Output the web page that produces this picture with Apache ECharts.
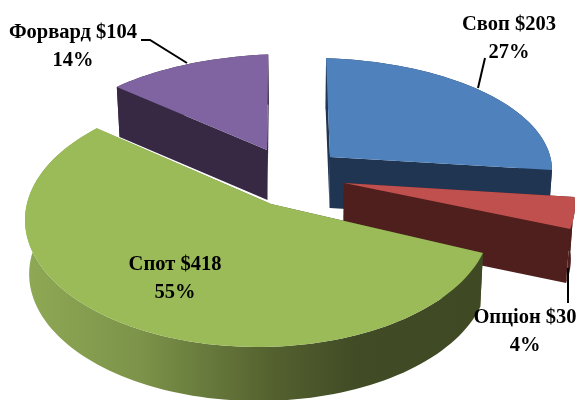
<!DOCTYPE html>
<html>
<head>
<meta charset="utf-8">
<style>
	html, body { margin: 0; padding: 0; background: #fff; }
	#main { width: 578px; height: 400px; }
</style>
<script src="https://cdn.jsdelivr.net/npm/echarts@6/dist/echarts.min.js"></script>
</head>
<body>
<div id="main"></div>
<script>
var categories = [ 'Своп', 'Опціон', 'Спот', 'Форвард' ];
var values = [ 203, 30, 418, 104 ];
var percents = [ 27, 4, 55, 14 ];

// look of the exploded 3d slices, same order as categories
// ex/ey/rx/ry: ellipse of the top face, px/py: slice tip, shift: angle correction at both ends (deg)
var sliceStyles = [
	{ ex: 310, ey: 170, rx: 242, ry: 112, px: 330, py: 157, shift: [ 3.8, -6.8 ], depth: 51, top: '#4f81bd', side: '#1f3552', order: 0 },
	{ ex: 335, ey: 205, rx: 240, ry: 120, px: 344, py: 183, shift: [ -10.6, -9.6 ], depth: 54, top: '#c0504d', side: '#4e1f1d', order: 2 },
	{ ex: 258, ey: 220, rx: 233, ry: 127, px: 271, py: 204, shift: [ -6, 5.8 ], depth: 54, top: '#9bbb59', side: null, order: 3 },
	{ ex: 290, ey: 161, rx: 240, ry: 107, px: 267, py: 150, shift: [ 3.4, -5.2 ], depth: 50, top: '#8064a2', side: '#372943', order: 1 }
];
var vanishX = 300;
var labelPos = [ [ 509, 25 ], [ 525, 318 ], [ 175, 265 ], [ 73, 33 ] ];
var leaderLines = [
	[ [ 485, 58 ], [ 478, 88 ] ],
	[ [ 568, 268 ], [ 568, 303 ] ],
	null,
	[ [ 141, 40 ], [ 150, 40 ], [ 187, 63 ] ]
];

var total = values.reduce(function(a, b) {
	return a + b;
}, 0);

function ellipsePoint(st, deg) {
	var r = deg * Math.PI / 180;
	return [ st.ex + st.rx * Math.sin(r), st.ey - st.ry * Math.cos(r) ];
}

function drop(st, p) {
	return [ vanishX + (p[0] - vanishX) * 0.985, p[1] + st.depth ];
}

function renderSlice(params, api) {
	var i = params.dataIndex;
	var st = sliceStyles[i];
	var before = 0;
	for (var k = 0; k < i; k++) {
		before += values[k];
	}
	var a0 = before / total * 360 + st.shift[0];
	var a1 = (before + api.value(0)) / total * 360 + st.shift[1];

	var arc = [];
	var steps = Math.ceil((a1 - a0) / 2);
	for (var s = 0; s <= steps; s++) {
		arc.push(ellipsePoint(st, a0 + (a1 - a0) * s / steps));
	}
	var tip = [ st.px, st.py ];
	var first = arc[0];
	var last = arc[arc.length - 1];
	var sideFill = st.side;
	if (!sideFill) {
		sideFill = new echarts.graphic.LinearGradient(25, 0, 485, 0, [
			{ offset: 0, color: '#8ea955' },
			{ offset: 0.25, color: '#7c9349' },
			{ offset: 0.55, color: '#525f2e' },
			{ offset: 0.72, color: '#414c26' },
			{ offset: 1, color: '#3f4a24' }
		], true);
	}

	var outer = arc.concat(arc.map(function(p) {
		return drop(st, p);
	}).reverse());
	var faces = [
		[ tip, first, drop(st, first), drop(st, tip) ],
		[ tip, last, drop(st, last), drop(st, tip) ],
		outer
	];
	var children = faces.map(function(pts, n) {
		return {
			type: 'polygon',
			z2: st.order * 10 + n,
			shape: { points: pts },
			style: { fill: sideFill }
		};
	});
	children.push({
		type: 'polygon',
		z2: st.order * 10 + 5,
		shape: { points: [ tip ].concat(arc) },
		style: { fill: st.top }
	});
	if (leaderLines[i]) {
		children.push({
			type: 'polyline',
			z2: 60,
			shape: { points: leaderLines[i] },
			style: { stroke: '#000', lineWidth: 2, fill: 'none' }
		});
	}
	children.push({
		type: 'text',
		z2: 70,
		style: {
			x: labelPos[i][0],
			y: labelPos[i][1],
			text: categories[i] + ' $' + values[i] + '\n' + percents[i] + '%',
			fill: '#000',
			font: 'bold 20.5px "Liberation Serif"',
			lineHeight: 28,
			align: 'center',
			verticalAlign: 'top'
		},
		position: [ 0, -14 ]
	});
	return { type: 'group', children: children };
}

var myChart = echarts.init(document.getElementById('main'));
myChart.setOption({
	backgroundColor: '#fff',
	animation: false,
	series: [
		{
			type: 'custom',
			coordinateSystem: 'none',
			silent: true,
			renderItem: renderSlice,
			data: values.map(function(v) {
				return [ v ];
			})
		}
	]
});
</script>
</body>
</html>
